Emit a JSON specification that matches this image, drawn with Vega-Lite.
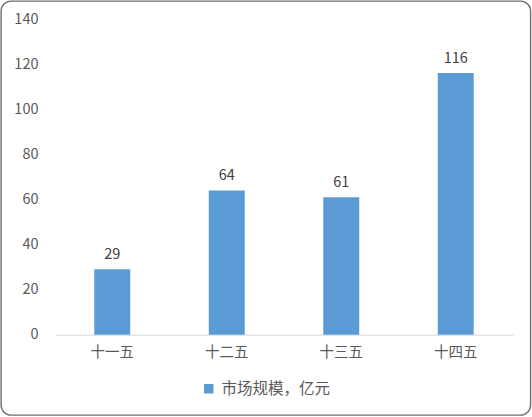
{
  "$schema": "https://vega.github.io/schema/vega-lite/v6.json",
  "autosize": {"type": "none"},
  "width": 529.5,
  "height": 414,
  "padding": {"left": 1, "top": 1, "right": 1, "bottom": 2},
  "background": "white",
  "config": {
    "view": {"stroke": "#6e6e6e", "strokeWidth": 1.4, "cornerRadius": 10},
    "font": "Noto Sans CJK SC"
  },
  "data": {
    "values": [
      {"period": "十一五", "value": 29, "series": "市场规模，亿元"},
      {"period": "十二五", "value": 64, "series": "市场规模，亿元"},
      {"period": "十三五", "value": 61, "series": "市场规模，亿元"},
      {"period": "十四五", "value": 116, "series": "市场规模，亿元"}
    ]
  },
  "encoding": {
    "x": {
      "field": "period",
      "type": "nominal",
      "sort": null,
      "scale": {"range": [54, 512], "paddingInner": 0.686, "paddingOuter": 0.343},
      "axis": {
        "title": null,
        "orient": "bottom",
        "offset": -80.3,
        "labelAngle": 0,
        "ticks": false,
        "domainColor": "#d9d9d9",
        "domainWidth": 1,
        "labelColor": "#595959",
        "labelFontSize": 14.5,
        "labelPadding": 10.5,
        "grid": false
      }
    },
    "y": {
      "field": "value",
      "type": "quantitative",
      "scale": {"domain": [0, 140], "range": [333.7, 18], "nice": false},
      "axis": {
        "title": null,
        "orient": "left",
        "offset": -37,
        "domain": false,
        "ticks": false,
        "grid": false,
        "labelPadding": 0,
        "values": [0, 20, 40, 60, 80, 100, 120, 140],
        "labelColor": "#595959",
        "labelFontSize": 14.5
      }
    }
  },
  "layer": [
    {
      "mark": {"type": "bar"},
      "encoding": {
        "color": {
          "field": "series",
          "type": "nominal",
          "scale": {"range": ["#5b9bd5"]},
          "legend": {
            "title": null,
            "orient": "none",
            "legendX": 200,
            "legendY": 380,
            "symbolType": "square",
            "symbolSize": 90,
            "symbolStrokeWidth": 0,
            "labelFontSize": 15.5,
            "labelColor": "#595959",
            "labelOffset": 5,
            "padding": 0
          }
        }
      }
    },
    {
      "mark": {"type": "text", "baseline": "alphabetic", "dy": -10, "fontSize": 14.5, "color": "#404040"},
      "encoding": {"text": {"field": "value", "type": "quantitative"}}
    }
  ]
}
